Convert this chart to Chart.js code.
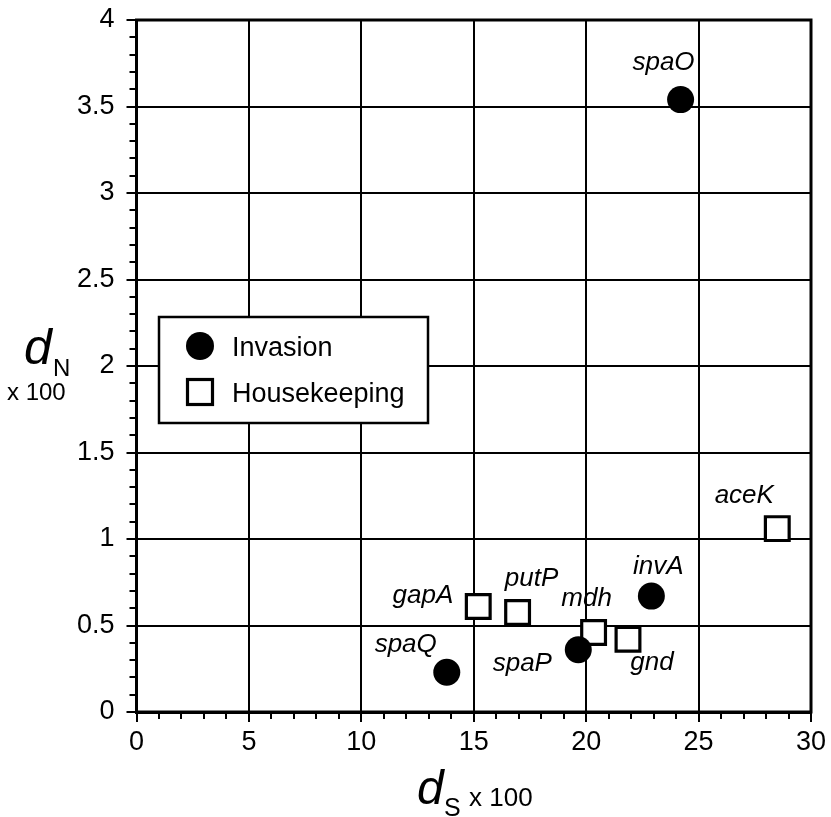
<!DOCTYPE html>
<html>
<head>
<meta charset="utf-8">
<script src="https://cdn.jsdelivr.net/npm/chart.js@4.4.1/dist/chart.umd.min.js"></script>
<style>
  html, body { margin: 0; padding: 0; background: #fff; }
  #wrap { width: 831px; height: 817px; position: relative; }
</style>
</head>
<body>
<div id="wrap"><canvas id="c" width="831" height="817"></canvas></div>
<script>
// ---- data ----
const invasionGenes = ['spaO', 'invA', 'spaP', 'spaQ'];
const invasionDS = [24.2, 22.9, 19.65, 13.8];
const invasionDN = [3.54, 0.67, 0.36, 0.23];

const housekeepingGenes = ['aceK', 'gapA', 'putP', 'mdh', 'gnd'];
const housekeepingDS = [28.5, 15.2, 16.95, 20.33, 21.86];
const housekeepingDN = [1.06, 0.61, 0.575, 0.46, 0.42];

const xTickValues = [0, 5, 10, 15, 20, 25, 30];
const yTickValues = [0, 0.5, 1, 1.5, 2, 2.5, 3, 3.5, 4];
const seriesNames = ['Invasion', 'Housekeeping'];

// ---- label placement (style only) ----
const labelPlacement = {
  spaO: { align: 'right',  dx: 14,  dy: -30 },
  invA: { align: 'center', dx: 7,   dy: -22 },
  spaP: { align: 'center', dx: -56, dy: 21 },
  spaQ: { align: 'right',  dx: -10, dy: -20 },
  aceK: { align: 'center', dx: -33, dy: -26 },
  gapA: { align: 'right',  dx: -25, dy: -3 },
  putP: { align: 'center', dx: 14,  dy: -27 },
  mdh:  { align: 'center', dx: -7,  dy: -26 },
  gnd:  { align: 'center', dx: 24,  dy: 31 }
};

const FONT = "'Liberation Sans', Arial, Helvetica, sans-serif";

function toPoints(xs, ys) { return xs.map((x, i) => ({ x: x, y: ys[i] })); }

const overlayPlugin = {
  id: 'overlay',
  afterDraw(chart) {
    const ctx = chart.ctx;
    const xs = chart.scales.x, ys = chart.scales.y;
    const a = chart.chartArea;
    ctx.save();
    // minor ticks
    ctx.strokeStyle = '#000';
    ctx.lineWidth = 2;
    ctx.beginPath();
    for (let v = 0; v <= 30; v += 1) {
      if (v % 5 === 0) continue;
      const px = Math.round(xs.getPixelForValue(v));
      ctx.moveTo(px, a.bottom);
      ctx.lineTo(px, a.bottom + 7);
    }
    for (let i = 0; i <= 40; i++) {
      if (i % 5 === 0) continue;
      const py = Math.round(ys.getPixelForValue(i / 10));
      ctx.moveTo(a.left, py);
      ctx.lineTo(a.left - 7, py);
    }
    ctx.stroke();
    // frame
    ctx.lineWidth = 3;
    ctx.strokeRect(a.left, a.top, a.right - a.left, a.bottom - a.top);

    // point labels
    ctx.fillStyle = '#000';
    ctx.font = 'italic 26px ' + FONT;
    ctx.textBaseline = 'alphabetic';
    chart.data.datasets.forEach((ds, di) => {
      const meta = chart.getDatasetMeta(di);
      ds.geneNames.forEach((name, i) => {
        const el = meta.data[i];
        const p = labelPlacement[name];
        ctx.textAlign = p.align;
        ctx.fillText(name, el.x + p.dx, el.y + p.dy);
      });
    });

    // legend box
    const lx = a.left + 22.5, ly = a.top + 297, lw = 269, lh = 106;
    ctx.fillStyle = '#fff';
    ctx.fillRect(lx, ly, lw, lh);
    ctx.lineWidth = 2.5;
    ctx.strokeStyle = '#000';
    ctx.strokeRect(lx, ly, lw, lh);
    ctx.fillStyle = '#000';
    ctx.beginPath();
    ctx.arc(lx + 41, ly + 29, 14, 0, Math.PI * 2);
    ctx.fill();
    ctx.lineWidth = 3.2;
    ctx.strokeRect(lx + 28.5, ly + 62.5, 25, 25);
    ctx.font = '27px ' + FONT;
    ctx.textAlign = 'left';
    ctx.fillText(seriesNames[0], lx + 73, ly + 39);
    ctx.fillText(seriesNames[1], lx + 73, ly + 85);

    // axis titles
    ctx.font = 'italic 50px ' + FONT;
    ctx.fillText('d', 24, 364);
    ctx.font = '24px ' + FONT;
    ctx.fillText('N', 53, 376);
    ctx.font = '24px ' + FONT;
    ctx.fillText('x 100', 7, 400);

    ctx.font = 'italic 48px ' + FONT;
    ctx.fillText('d', 417, 804);
    ctx.font = '25px ' + FONT;
    ctx.fillText('S', 444, 816);
    ctx.font = '26px ' + FONT;
    ctx.fillText('x 100', 469, 806);
    ctx.restore();
  }
};

new Chart(document.getElementById('c'), {
  type: 'scatter',
  data: {
    datasets: [
      {
        label: seriesNames[0],
        geneNames: invasionGenes,
        data: toPoints(invasionDS, invasionDN),
        pointStyle: 'circle',
        pointRadius: 13.5,
        pointHoverRadius: 13.5,
        backgroundColor: '#000',
        borderColor: '#000',
        borderWidth: 0
      },
      {
        label: seriesNames[1],
        geneNames: housekeepingGenes,
        data: toPoints(housekeepingDS, housekeepingDN),
        pointStyle: 'rect',
        pointRadius: 16.8,
        pointHoverRadius: 16.8,
        backgroundColor: '#fff',
        borderColor: '#000',
        borderWidth: 3.2
      }
    ]
  },
  options: {
    responsive: false,
    animation: false,
    devicePixelRatio: 1,
    layout: { padding: { top: 15, right: 20, left: 0, bottom: 0 } },
    plugins: { legend: { display: false }, tooltip: { enabled: false } },
    scales: {
      x: {
        type: 'linear',
        min: 0, max: 30,
        afterFit(scale) { scale.height = 105; scale.paddingLeft = 0; scale.paddingRight = 0; },
        afterBuildTicks(scale) { scale.ticks = xTickValues.map(v => ({ value: v })); },
        ticks: { color: '#000', font: { family: FONT, size: 27 }, padding: 4, maxRotation: 0 },
        grid: { color: '#000', lineWidth: 2, tickLength: 10, drawTicks: true },
        border: { display: true, color: '#000', width: 3 }
      },
      y: {
        type: 'linear',
        min: 0, max: 4,
        afterFit(scale) { scale.width = 136.5; scale.paddingTop = 0; scale.paddingBottom = 0; },
        afterBuildTicks(scale) { scale.ticks = yTickValues.map(v => ({ value: v })); },
        ticks: { color: '#000', font: { family: FONT, size: 27 }, padding: 12,
                 callback: v => String(v) },
        grid: { color: '#000', lineWidth: 2, tickLength: 10, drawTicks: true },
        border: { display: true, color: '#000', width: 3 }
      }
    }
  },
  plugins: [overlayPlugin]
});
</script>
</body>
</html>
